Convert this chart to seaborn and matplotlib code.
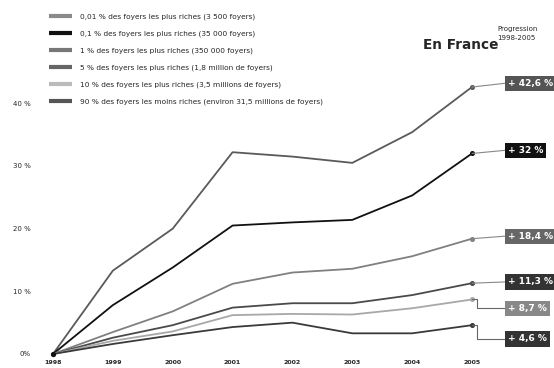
import pandas as pd
import seaborn as sns
import matplotlib.pyplot as plt
from matplotlib.lines import Line2D

years = [1998, 1999, 2000, 2001, 2002, 2003, 2004, 2005]
top_001 = [0, 13.3, 20.0, 32.2, 31.5, 30.5, 35.4, 42.6]
top_01 = [0, 7.8, 13.8, 20.5, 21.0, 21.4, 25.3, 32.0]
top_1 = [0, 3.5, 6.8, 11.2, 13.0, 13.6, 15.6, 18.4]
top_5 = [0, 2.6, 4.6, 7.4, 8.1, 8.1, 9.4, 11.3]
top_10 = [0, 2.1, 3.6, 6.2, 6.4, 6.3, 7.3, 8.7]
bottom_90 = [0, 1.6, 3.0, 4.3, 5.0, 3.3, 3.3, 4.6]

groups = [
    "0,01 % des foyers les plus riches (3 500 foyers)",
    "0,1 % des foyers les plus riches (35 000 foyers)",
    "1 % des foyers les plus riches (350 000 foyers)",
    "5 % des foyers les plus riches (1,8 million de foyers)",
    "10 % des foyers les plus riches (3,5 millions de foyers)",
    "90 % des foyers les moins riches (environ 31,5 millions de foyers)",
]
series = [top_001, top_01, top_1, top_5, top_10, bottom_90]
badges = ["+ 42,6 %", "+ 32 %", "+ 18,4 %", "+ 11,3 %", "+ 8,7 %", "+ 4,6 %"]
y_ticks = [0, 10, 20, 30, 40]
y_labels = ["0%", "10 %", "20 %", "30 %", "40 %"]

line_colors = ["#5a5a5a", "#111111", "#808080", "#4a4a4a", "#a8a8a8", "#3a3a3a"]
legend_colors = ["#8a8a8a", "#111111", "#777777", "#666666", "#bbbbbb", "#555555"]
badge_colors = ["#555555", "#111111", "#666666", "#333333", "#888888", "#333333"]
badge_y = [43.2, 32.5, 18.8, 11.5, 7.3, 2.4]

rows = []
for g, vals in zip(groups, series):
    for yr, v in zip(years, vals):
        rows.append({"year": yr, "value": v, "group": g})
df = pd.DataFrame(rows)

sns.set_style("white")
plt.rcParams["font.family"] = ["DejaVu Sans"]

fig = plt.figure(figsize=(5.54, 3.68), dpi=100)
ax = fig.add_axes([53 / 554, 14 / 368, 419 / 554, 282 / 368])

sns.lineplot(data=df, x="year", y="value", hue="group", palette=dict(zip(groups, line_colors)),
             linewidth=1.3, legend=False, ax=ax, clip_on=False)

ax.set_xlim(1998, 2005)
ax.set_ylim(0, 45)
for s in ax.spines.values():
    s.set_visible(False)

ax.set_xticks(years)
ax.set_xticklabels([str(y) for y in years], fontsize=4.5, fontweight="bold")
ax.set_yticks(y_ticks)
ax.set_yticklabels(y_labels, fontsize=5)
ax.tick_params(axis="x", length=0, pad=4)
ax.tick_params(axis="y", length=0, pad=16)
ax.set_xlabel("")
ax.set_ylabel("")

# start and end dots
ax.plot([1998], [0], "o", color="#111111", ms=2.8, clip_on=False)
for vals, c in zip(series, line_colors):
    ax.plot([2005], [vals[-1]], "o", color=c, ms=2.6, clip_on=False)

# badges with connectors
for vals, lab, bc, by in zip(series, badges, badge_colors, badge_y):
    end = vals[-1]
    if abs(by - end) > 0.8:
        ax.plot([2005, 2005.08, 2005.08, 2005.55], [end, end, by, by], color="#666666", lw=0.8, clip_on=False)
    else:
        ax.plot([2005, 2005.55], [end, by], color="#888888", lw=0.8, clip_on=False)
    ax.text(2005.6, by, lab, color="white", fontsize=6.5, fontweight="bold", va="center", ha="left",
            bbox=dict(boxstyle="square,pad=0.35", fc=bc, ec="none"), clip_on=False)

handles = [Line2D([0], [0], color=c, lw=3, solid_capstyle="butt") for c in legend_colors]
fig.legend(handles, groups, loc="upper left", bbox_to_anchor=(42 / 554, 1 - 7 / 368), frameon=False,
           fontsize=5.3, handlelength=3.2, labelspacing=1.4, handletextpad=1.0)

fig.text(423 / 554, 1 - 45 / 368, "En France", fontsize=9.8, fontweight="bold", va="center", ha="left")
fig.text(497 / 554, 1 - 26 / 368, "Progression\n1998-2005", fontsize=5, va="top", ha="left", linespacing=1.5)

fig.savefig("out.png", dpi=100)
